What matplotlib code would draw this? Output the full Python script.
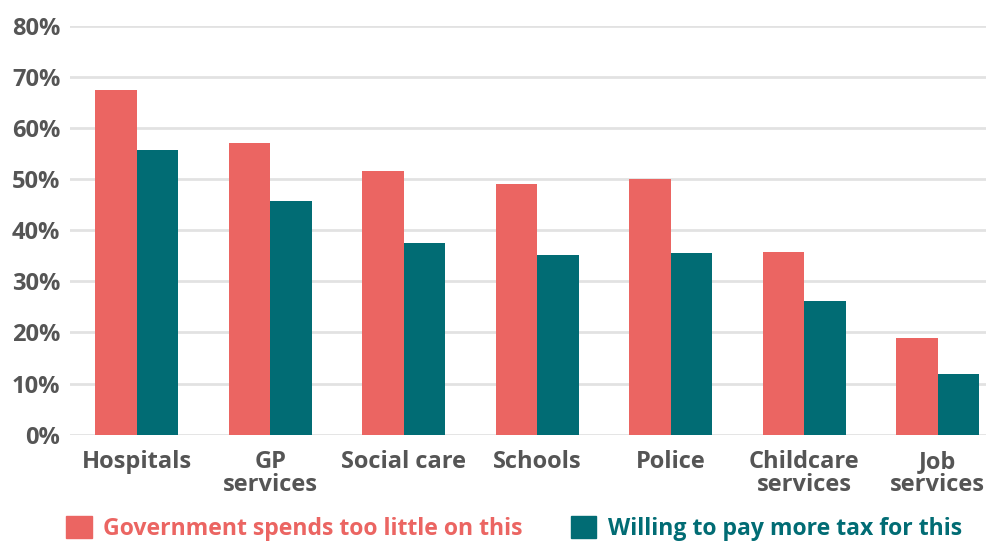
import matplotlib
matplotlib.use('Agg')
import matplotlib.pyplot as plt
import matplotlib.patches as mpatches
import numpy as np

categories = ['Hospitals', 'GP\nservices', 'Social care', 'Schools', 'Police',
              'Childcare\nservices', 'Job\nservices']
spend_too_little = [67.5, 57.0, 51.6, 49.0, 50.0, 35.8, 19.0]
pay_more_tax = [55.7, 45.8, 37.4, 35.2, 35.5, 26.1, 11.9]
yticks = [0, 10, 20, 30, 40, 50, 60, 70, 80]
series_names = ['Government spends too little on this', 'Willing to pay more tax for this']

RED = '#EB6562'
TEAL = '#016C74'
GREY = '#555555'

plt.rcParams['font.family'] = ['Open Sans', 'DejaVu Sans']
plt.rcParams['font.weight'] = 'bold'

fig = plt.figure(figsize=(9.87, 5.45), dpi=100)
ax = fig.add_axes([0.0709, 0.2024, 0.9291, 0.9529 - 0.2024])

x = np.arange(len(categories))
w = 0.31
ax.bar(x - w / 2, spend_too_little, w, color=RED, zorder=3)
ax.bar(x + w / 2, pay_more_tax, w, color=TEAL, zorder=3)

ax.set_xlim(-0.5, 6.37)
ax.set_ylim(0, 80)
ax.set_yticks(yticks)
ax.set_yticklabels([f'{v}%' for v in yticks])
ax.set_xticks(x)
ax.set_xticklabels(categories, linespacing=0.92)
ax.tick_params(axis='both', length=0, labelsize=17, labelcolor=GREY)
ax.tick_params(axis='y', pad=7)
ax.tick_params(axis='x', pad=11)
for lab in ax.get_xticklabels() + ax.get_yticklabels():
    lab.set_fontweight('bold')

ax.grid(axis='y', color='#e2e2e2', linewidth=2, zorder=0)
ax.set_axisbelow(True)
for s in ax.spines.values():
    s.set_visible(False)

handles = [mpatches.Patch(color=RED), mpatches.Patch(color=TEAL)]
leg = fig.legend(handles, series_names, loc='lower left', bbox_to_anchor=(0.046, -0.03),
                 ncol=2, frameon=False, handlelength=1.1, handleheight=1.1,
                 handletextpad=0.5, columnspacing=2.1, labelcolor=[RED, TEAL],
                 prop={'weight': 'bold', 'size': 16.6})

fig.savefig('out.png', dpi=100)
